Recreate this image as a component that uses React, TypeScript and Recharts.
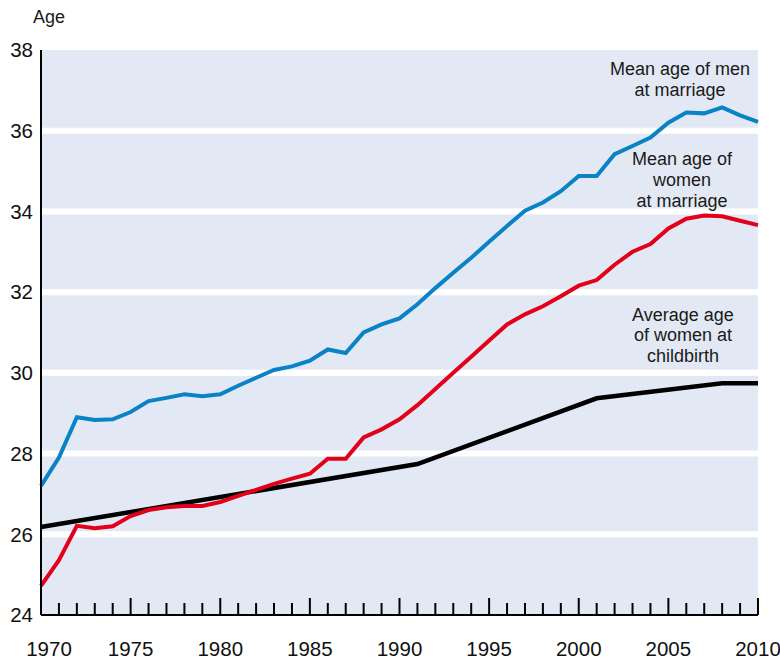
import { LineChart, Line, XAxis, YAxis, CartesianGrid, ReferenceLine } from 'recharts';

document.body.style.margin = '0';

const years = [
  1970, 1971, 1972, 1973, 1974, 1975, 1976, 1977, 1978, 1979,
  1980, 1981, 1982, 1983, 1984, 1985, 1986, 1987, 1988, 1989,
  1990, 1991, 1992, 1993, 1994, 1995, 1996, 1997, 1998, 1999,
  2000, 2001, 2002, 2003, 2004, 2005, 2006, 2007, 2008, 2009, 2010,
];

const menAge = [
  27.2, 27.9, 28.9, 28.83, 28.85, 29.03, 29.3, 29.38, 29.47, 29.42,
  29.47, 29.68, 29.88, 30.07, 30.16, 30.3, 30.58, 30.49, 31.0, 31.2,
  31.35, 31.7, 32.1, 32.48, 32.85, 33.25, 33.64, 34.02, 34.22, 34.5,
  34.88, 34.88, 35.42, 35.62, 35.83, 36.2, 36.45, 36.43, 36.58, 36.38, 36.22,
];

const womenAge = [
  24.72, 25.36, 26.21, 26.15, 26.2, 26.45, 26.6, 26.67, 26.7, 26.7,
  26.8, 26.95, 27.1, 27.25, 27.38, 27.5, 27.87, 27.87, 28.4, 28.6,
  28.85, 29.2, 29.6, 30.0, 30.4, 30.8, 31.2, 31.45, 31.65, 31.9,
  32.16, 32.3, 32.68, 33.0, 33.19, 33.58, 33.82, 33.9, 33.88, 33.77, 33.66,
];

const childbirthAge: (number | null)[] = [
  26.18, null, null, null, null, null, null, null, null, null,
  null, null, null, null, null, null, null, null, null, null,
  null, 27.74, null, null, null, null, null, null, null, null,
  null, 29.37, null, null, null, null, null, null, 29.74, null, 29.74,
];

const tickLabels = [1970, 1975, 1980, 1985, 1990, 1995, 2000, 2005, 2010];
const ageTicks = [24, 26, 28, 30, 32, 34, 36, 38];
const gridAges = [26, 28, 30, 32, 34, 36];

const data = years.map((year, i) => ({
  year,
  men: menAge[i],
  women: womenAge[i],
  birth: childbirthAge[i],
}));

const FONT = '"Liberation Sans", Arial, sans-serif';

function YearTick(props: any) {
  const { x, y, payload, index } = props;
  const major = tickLabels.includes(payload.value);
  return (
    <g>
      <line x1={x} x2={x} y1={y} y2={y - (major ? 17 : 12)} stroke="#000" strokeWidth={2} />
      {major && (
        <text x={x + (index === 0 ? 8 : 0)} y={y + 41} textAnchor="middle" fontSize={20.5} fontFamily={FONT} fill="#111">
          {payload.value}
        </text>
      )}
    </g>
  );
}

export default function App() {
  return (
    <div style={{ position: 'relative', width: 780, height: 662, fontFamily: FONT, background: '#fff' }}>
      <LineChart width={780} height={662} data={data} margin={{ top: 50, right: 22, bottom: 7, left: 0 }}>
        <CartesianGrid fill="#e3e9f4" horizontal={false} vertical={false} />
        <XAxis
          dataKey="year"
          type="number"
          domain={[1970, 2010]}
          ticks={years}
          interval={0}
          height={40}
          tickSize={0}
          tickMargin={0}
          tickLine={false}
          axisLine={{ stroke: '#000', strokeWidth: 2 }}
          tick={<YearTick />}
        />
        <YAxis
          type="number"
          domain={[24, 38]}
          ticks={ageTicks}
          width={41}
          tickSize={0}
          tickMargin={8}
          tickLine={false}
          axisLine={{ stroke: '#000', strokeWidth: 2 }}
          tick={{ fontSize: 20.5, fill: '#111', fontFamily: FONT }}
        />
        {gridAges.map((a) => (
          <ReferenceLine
            key={a}
            segment={[{ x: 1970, y: a }, { x: 2010, y: a }]}
            stroke="#fff"
            strokeWidth={6}
          />
        ))}
        <Line dataKey="birth" stroke="#000" strokeWidth={4.5} dot={false} connectNulls isAnimationActive={false} />
        <Line dataKey="women" stroke="#e2001a" strokeWidth={4} dot={false} isAnimationActive={false} />
        <Line dataKey="men" stroke="#0a83c6" strokeWidth={4} dot={false} isAnimationActive={false} />
      </LineChart>
      <svg width={780} height={662} style={{ position: 'absolute', left: 0, top: 0, pointerEvents: 'none' }}>
        <g fontFamily={FONT} fontSize={18} fill="#1a1a1a" textAnchor="middle">
          <text x={33} y={23} textAnchor="start">Age</text>
          <text x={680} y={75}>Mean age of men</text>
          <text x={680} y={96}>at marriage</text>
          <text x={682} y={165}>Mean age of</text>
          <text x={682} y={186}>women</text>
          <text x={682} y={207}>at marriage</text>
          <text x={683} y={321}>Average age</text>
          <text x={683} y={341}>of women at</text>
          <text x={683} y={362}>childbirth</text>
        </g>
      </svg>
    </div>
  );
}
